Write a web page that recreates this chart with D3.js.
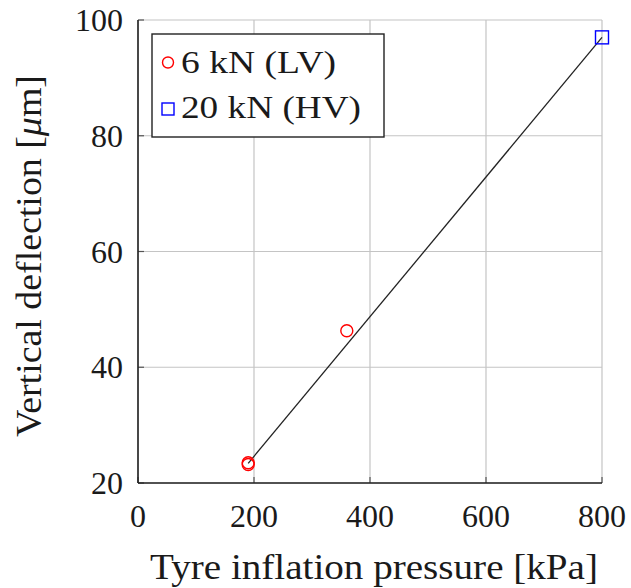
<!DOCTYPE html>
<html>
<head>
<meta charset="utf-8">
<script src="https://cdn.jsdelivr.net/npm/d3@7"></script>
<style>
body { margin: 0; background: #fff; }
text { font-family: "Liberation Serif", "DejaVu Serif", serif; fill: #1a1a1a; }
</style>
</head>
<body>
<script>
// data
var lvPressure = [190, 190, 360];
var lvDeflection = [23.5, 23.2, 46.3];
var hvPressure = [800];
var hvDeflection = [97.0];
var fitPressure = [190, 800];
var fitDeflection = [23.4, 97.0];
var xTicks = [0, 200, 400, 600, 800];
var yTicks = [20, 40, 60, 80, 100];
var legendLabels = ["6 kN (LV)", "20 kN (HV)"];
var legendWidths = [155, 180];

var width = 631, height = 588;
var margin = {left: 138, right: 29, top: 20, bottom: 105};

var svg = d3.select("body").append("svg")
  .attr("width", width)
  .attr("height", height);

var x = d3.scaleLinear().domain([0, 800]).range([margin.left, width - margin.right]);
var y = d3.scaleLinear().domain([20, 100]).range([height - margin.bottom, margin.top]);

// grid
svg.append("g").selectAll("line.gx")
  .data(xTicks).enter().append("line")
  .attr("x1", d => x(d)).attr("x2", d => x(d))
  .attr("y1", y(20)).attr("y2", y(100))
  .style("stroke", "#c4c4c4").style("stroke-width", 1.2);
svg.append("g").selectAll("line.gy")
  .data(yTicks).enter().append("line")
  .attr("x1", x(0)).attr("x2", x(800))
  .attr("y1", d => y(d)).attr("y2", d => y(d))
  .style("stroke", "#c4c4c4").style("stroke-width", 1.2);

// ticks (inward)
svg.append("g").selectAll("line")
  .data(xTicks).enter().append("line")
  .attr("x1", d => x(d)).attr("x2", d => x(d))
  .attr("y1", y(20)).attr("y2", y(20) - 6)
  .style("stroke", "#555").style("stroke-width", 1.2);
svg.append("g").selectAll("line")
  .data(yTicks).enter().append("line")
  .attr("x1", x(0)).attr("x2", x(0) + 6)
  .attr("y1", d => y(d)).attr("y2", d => y(d))
  .style("stroke", "#555").style("stroke-width", 1.2);

// axes lines
svg.append("line")
  .attr("x1", x(0)).attr("x2", x(800)).attr("y1", y(20)).attr("y2", y(20))
  .style("stroke", "#222").style("stroke-width", 1.6);
svg.append("line")
  .attr("x1", x(0)).attr("x2", x(0)).attr("y1", y(20)).attr("y2", y(100))
  .style("stroke", "#222").style("stroke-width", 1.6);

// tick labels
svg.append("g").selectAll("text")
  .data(xTicks).enter().append("text")
  .attr("x", d => x(d)).attr("y", y(20) + 44)
  .attr("text-anchor", "middle")
  .style("font-size", "32px")
  .text(d => d);
svg.append("g").selectAll("text")
  .data(yTicks).enter().append("text")
  .attr("x", x(0) - 15).attr("y", d => y(d) + 11)
  .attr("text-anchor", "end")
  .style("font-size", "32px")
  .text(d => d);

// axis titles
svg.append("text")
  .attr("x", 150).attr("y", 579)
  .attr("textLength", 448).attr("lengthAdjust", "spacingAndGlyphs")
  .style("font-size", "35px")
  .text("Tyre inflation pressure [kPa]");
svg.append("text")
  .attr("transform", "translate(41,437) rotate(-90)")
  .attr("textLength", 362).attr("lengthAdjust", "spacingAndGlyphs")
  .style("font-size", "35px")
  .html("Vertical deflection [<tspan font-style='italic'>μ</tspan>m]");

// fit line
var line = d3.line().x(d => x(d[0])).y(d => y(d[1]));
svg.append("path")
  .datum(d3.zip(fitPressure, fitDeflection))
  .attr("d", line)
  .style("fill", "none").style("stroke", "#222").style("stroke-width", 1.3);

// points
svg.append("g").selectAll("circle")
  .data(d3.zip(lvPressure, lvDeflection)).enter().append("circle")
  .attr("cx", d => x(d[0])).attr("cy", d => y(d[1])).attr("r", 6)
  .style("fill", "none").style("stroke", "red").style("stroke-width", 1.4);
svg.append("g").selectAll("rect")
  .data(d3.zip(hvPressure, hvDeflection)).enter().append("rect")
  .attr("x", d => x(d[0]) - 6.5).attr("y", d => y(d[1]) - 6.5)
  .attr("width", 13).attr("height", 13)
  .style("fill", "none").style("stroke", "blue").style("stroke-width", 1.4);

// legend
var lg = svg.append("g");
lg.append("rect")
  .attr("x", 152).attr("y", 34).attr("width", 232).attr("height", 103)
  .style("fill", "#fff").style("stroke", "#222").style("stroke-width", 1.4);
lg.append("circle").attr("cx", 168).attr("cy", 62.5).attr("r", 5.5)
  .style("fill", "none").style("stroke", "red").style("stroke-width", 1.4);
lg.append("rect").attr("x", 162).attr("y", 103).attr("width", 12).attr("height", 12)
  .style("fill", "none").style("stroke", "blue").style("stroke-width", 1.4);
lg.selectAll("text.lab")
  .data(legendLabels).enter().append("text")
  .attr("x", 181).attr("y", (d, i) => 73 + i * 45)
  .attr("textLength", (d, i) => legendWidths[i]).attr("lengthAdjust", "spacingAndGlyphs")
  .style("font-size", "31px")
  .text(d => d);
</script>
</body>
</html>
